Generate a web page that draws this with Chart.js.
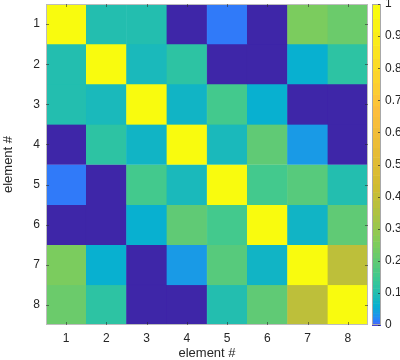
<!DOCTYPE html>
<html>
<head>
<meta charset="utf-8">
<script src="https://cdn.jsdelivr.net/npm/chart.js@4/dist/chart.umd.min.js"></script>
<style>
html, body { margin: 0; padding: 0; background: #fff; }
</style>
</head>
<body>
<canvas id="heat" width="400" height="360"></canvas>
<script>
// Data
const elements = ['1', '2', '3', '4', '5', '6', '7', '8'];
const row1 = [1.00, 0.10, 0.10, 0.00, 0.013, 0.00, 0.25, 0.22];
const row2 = [0.10, 1.00, 0.085, 0.118, 0.00, 0.00, 0.06, 0.118];
const row3 = [0.10, 0.085, 1.00, 0.072, 0.155, 0.06, 0.00, 0.00];
const row4 = [0.00, 0.118, 0.072, 1.00, 0.085, 0.20, 0.035, 0.00];
const row5 = [0.013, 0.00, 0.155, 0.085, 1.00, 0.155, 0.185, 0.10];
const row6 = [0.00, 0.00, 0.06, 0.20, 0.155, 1.00, 0.072, 0.20];
const row7 = [0.25, 0.06, 0.00, 0.035, 0.185, 0.072, 1.00, 0.39];
const row8 = [0.22, 0.118, 0.00, 0.00, 0.10, 0.20, 0.39, 1.00];
const matrix = [row1, row2, row3, row4, row5, row6, row7, row8];
const colorbarTicks = [0, 0.1, 0.2, 0.3, 0.4, 0.5, 0.6, 0.7, 0.8, 0.9, 1];

// Colormap (parula, value^gamma)
const parula = [
    [0.000, [62, 38, 168]],
    [0.125, [71, 87, 246]],
    [0.250, [40, 134, 250]],
    [0.375, [8, 176, 208]],
    [0.500, [55, 200, 151]],
    [0.625, [129, 204, 89]],
    [0.750, [209, 187, 48]],
    [0.875, [253, 190, 61]],
    [1.000, [249, 251, 14]]
];
const gamma = 0.35;
const textColor = '#262626';
const font = {family: 'Liberation Sans, Arial, sans-serif', size: 12};
const titleFont = {family: 'Liberation Sans, Arial, sans-serif', size: 13, lineHeight: 1};

const parulaAt = (t) => {
    t = Math.max(0, Math.min(1, t));
    for (let i = 1; i < parula.length; i++) {
        const [t1, c1] = parula[i];
        const [t0, c0] = parula[i - 1];
        if (t <= t1) {
            const f = (t - t0) / (t1 - t0);
            const c = c0.map((v, k) => Math.round(v + (c1[k] - v) * f));
            return `rgb(${c[0]},${c[1]},${c[2]})`;
        }
    }
    return 'rgb(249,251,14)';
}

const colorFor = (v) => parulaAt(Math.pow(v, gamma));

const noPadding = (s) => {
    s.paddingTop = 0;
    s.paddingBottom = 0;
    s.paddingLeft = 0;
    s.paddingRight = 0;
}

// Colorbar + axes box drawn from the scales
const colorbarPlugin = {
    id: 'colorbar',
    afterDraw(chart) {
        const {x, y, cb} = chart.scales;
        const area = chart.chartArea;
        const ctx = chart.ctx;
        const x0 = cb.left + 4, w = 9;
        const n = 64;
        ctx.save();
        for (let i = 0; i < n; i++) {
            const v0 = Math.pow(i / n, 1 / gamma);
            const v1 = Math.pow((i + 1) / n, 1 / gamma);
            const yTop = cb.getPixelForValue(v1);
            const yBot = cb.getPixelForValue(v0);
            ctx.fillStyle = parulaAt(i / (n - 1));
            ctx.fillRect(x0, yTop, w, yBot - yTop + 0.5);
        }
        ctx.lineWidth = 1;
        const top = cb.getPixelForValue(1), bot = cb.getPixelForValue(0);
        ctx.strokeStyle = '#a8a8a8';
        ctx.strokeRect(x0 + 0.5, top + 0.5, w - 1, bot - top - 1);
        ctx.strokeStyle = 'rgba(38,38,38,0.7)';
        colorbarTicks.forEach(v => {
            const py = Math.round(cb.getPixelForValue(v)) + 0.5;
            ctx.beginPath();
            ctx.moveTo(x0 + w - 3, py);
            ctx.lineTo(x0 + w - 1, py);
            ctx.stroke();
        });
        // axes box and inward ticks
        ctx.strokeStyle = '#bdbdbd';
        ctx.strokeRect(area.left + 0.5, area.top + 0.5, area.right - area.left - 1, area.bottom - area.top - 1);
        ctx.strokeStyle = 'rgba(38,38,38,0.55)';
        elements.forEach((e, i) => {
            const px = Math.round(x.getPixelForValue(i)) + 0.5;
            const py = Math.round(y.getPixelForValue(i + 1)) + 0.5;
            ctx.beginPath();
            ctx.moveTo(px, area.top); ctx.lineTo(px, area.top + 3);
            ctx.moveTo(px, area.bottom); ctx.lineTo(px, area.bottom - 3);
            ctx.moveTo(area.left, py); ctx.lineTo(area.left + 3, py);
            ctx.moveTo(area.right, py); ctx.lineTo(area.right - 3, py);
            ctx.stroke();
        });
        ctx.restore();
    }
};

const datasets = matrix.map((row, r) => ({
    label: elements[r],
    data: row.map(() => [r + 0.5, r + 1.5]),
    backgroundColor: row.map(colorFor),
    borderColor: row.map(colorFor),
    borderWidth: 0.5,
    borderSkipped: false,
    barPercentage: 1,
    categoryPercentage: 1,
    grouped: false
}));

new Chart(document.querySelector('#heat'), {
    type: 'bar',
    data: {labels: elements, datasets: datasets},
    plugins: [colorbarPlugin],
    options: {
        responsive: false,
        animation: false,
        layout: {padding: {top: 4, left: 0, right: 0, bottom: 0}},
        plugins: {legend: {display: false}, tooltip: {enabled: false}},
        scales: {
            x: {
                type: 'category',
                grid: {display: false, drawTicks: false},
                border: {display: false},
                ticks: {color: textColor, font: font, padding: 6, maxRotation: 0},
                title: {display: true, text: 'element #', color: textColor, font: titleFont, padding: {top: 0, bottom: 0}},
                afterFit: s => { s.height = 35; noPadding(s); }
            },
            y: {
                type: 'linear',
                min: 0.5,
                max: 8.5,
                reverse: true,
                grid: {display: false, drawTicks: false},
                border: {display: false},
                afterBuildTicks: s => { s.ticks = elements.map((e, i) => ({value: i + 1})); },
                ticks: {color: textColor, font: font, padding: 6, callback: v => String(v)},
                title: {display: true, text: 'element #', color: textColor, font: titleFont, padding: {top: 2, bottom: 0}},
                afterFit: s => { s.width = 46; noPadding(s); }
            },
            cb: {
                type: 'linear',
                position: 'right',
                min: 0,
                max: 1,
                grid: {display: false, drawTicks: false, drawOnChartArea: false},
                border: {display: false},
                afterBuildTicks: s => { s.ticks = colorbarTicks.map(v => ({value: v})); },
                ticks: {color: textColor, font: font, padding: 17, callback: v => String(Math.round(v * 10) / 10)},
                afterFit: s => { s.width = 32; noPadding(s); }
            }
        }
    }
});
</script>
</body>
</html>
